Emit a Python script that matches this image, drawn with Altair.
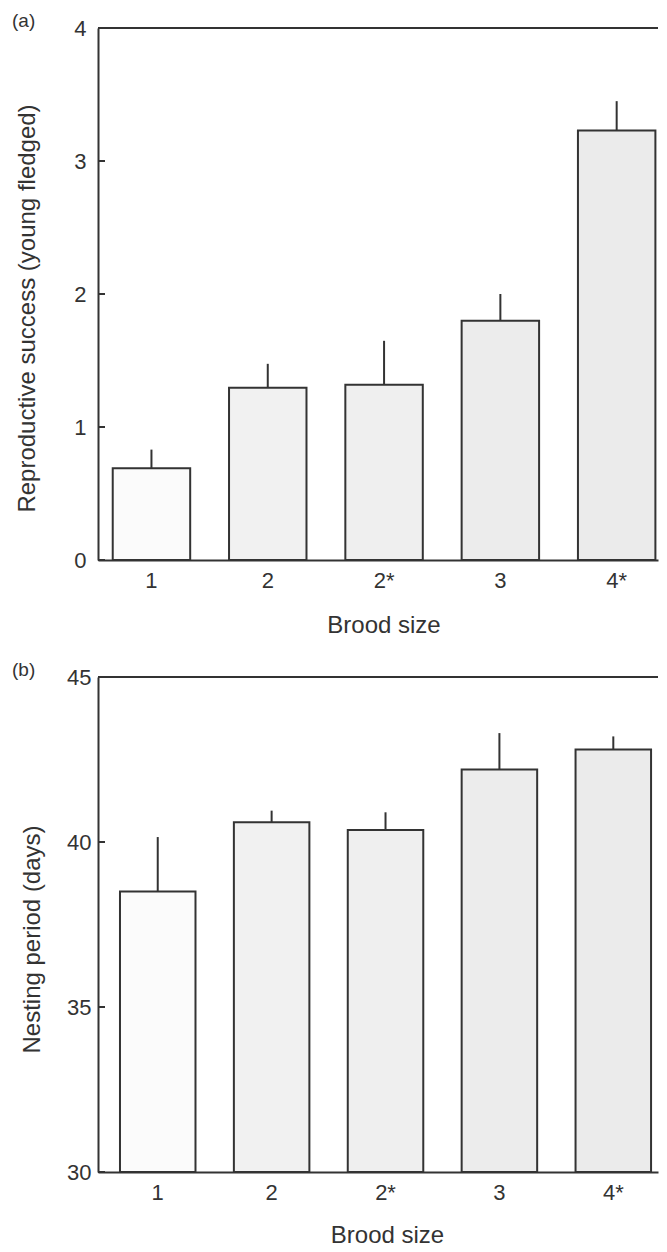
import altair as alt
import pandas as pd

sizes = ["1", "2", "2*", "3", "4*"]
success_mean = [0.69, 1.295, 1.318, 1.798, 3.23]
success_upper = [0.83, 1.475, 1.648, 2.0, 3.45]
nestling_mean = [38.5, 40.6, 40.36, 42.2, 42.8]
nestling_upper = [40.15, 40.95, 40.9, 43.3, 43.2]
success_ticks = [0, 1, 2, 3, 4]
nestling_ticks = [30, 35, 40, 45]

fill_a = ["#fbfbfb", "#f1f1f1", "#efefef", "#ececec", "#ebebeb"]
fill_b = ["#f6f6f6", "#f2f2f2", "#efefef", "#ebebeb", "#ebebeb"]

FONT = "Liberation Sans"
INK = "#333333"


def panel(label, mean, upper, ytitle, ydomain, yticks, fills, width, height,
          p_inner, p_outer, x_align, title_dx, ytitle_x, ytitle_y, xtitle_x, xtitle_y,
          ylabel_pad):
    df = pd.DataFrame({"size": sizes, "mean": mean, "upper": upper})
    tdf = pd.DataFrame({"tick": yticks})
    xs = alt.Scale(domain=sizes, paddingInner=p_inner, paddingOuter=p_outer, align=x_align)
    ys = alt.Scale(domain=ydomain, nice=False, zero=False)

    bars = alt.Chart(df).mark_bar(stroke=INK, strokeWidth=2).encode(
        x=alt.X("size:N", scale=xs, sort=sizes,
                axis=alt.Axis(title="Brood size", orient="bottom", labelAngle=0,
                              ticks=False, tickSize=0, labelPadding=27.5,
                              labelBaseline="alphabetic", labelFont=FONT, labelFontSize=22,
                              labelColor=INK, titleFont=FONT, titleFontSize=24,
                              titleFontWeight="normal", titleColor=INK,
                              titleBaseline="alphabetic", titleX=xtitle_x, titleY=xtitle_y,
                              titleAlign="center",
                              domainColor=INK, domainWidth=2, grid=False)),
        y=alt.Y("mean:Q", scale=ys,
                axis=alt.Axis(title=ytitle, values=yticks, format="d", ticks=False,
                              tickSize=0, labelPadding=ylabel_pad, labelFont=FONT,
                              labelFontSize=22, labelColor=INK, titleFont=FONT,
                              titleFontSize=24, titleFontWeight="normal", titleColor=INK,
                              titleBaseline="top", titleAngle=-90,
                              titleAlign="center", titleX=ytitle_x, titleY=ytitle_y,
                              domainColor=INK, domainWidth=2, grid=False)),
        y2=alt.datum(ydomain[0]),
        color=alt.Color("size:N", scale=alt.Scale(domain=sizes, range=fills), legend=None),
    )

    errs = alt.Chart(df).mark_rule(color=INK, strokeWidth=2).encode(
        x=alt.X("size:N", scale=xs, sort=sizes),
        y=alt.Y("mean:Q", title=ytitle),
        y2="upper:Q",
    )

    tickmarks = alt.Chart(tdf).mark_rule(color=INK, strokeWidth=2).encode(
        y=alt.Y("tick:Q", title=ytitle),
        x=alt.value(0),
        x2=alt.value(7),
    )

    top_border = alt.Chart(tdf).mark_rule(color=INK, strokeWidth=2).encode(
        y=alt.datum(ydomain[1]),
        x=alt.value(0),
        x2=alt.value(width),
    )

    return alt.layer(bars, errs, tickmarks, top_border).properties(
        width=width, height=height,
        title=alt.TitleParams(text=label, anchor="start", frame="group", dx=title_dx,
                              dy=29, offset=0, baseline="alphabetic", font=FONT,
                              fontSize=19, fontWeight="normal", color=INK),
    )


pa = panel("(a)", success_mean, success_upper, "Reproductive success (young fledged)",
           [0, 4], success_ticks, fill_a, 560, 532,
           0.334, 0.0745, 0.85, -86, -83, 280, 285.5, 72.5, 12)
pb = panel("(b)", nestling_mean, nestling_upper, "Nesting period (days)",
           [30, 45], nestling_ticks, fill_b, 560, 495,
           0.337, 0.127, 0.76, -86, -78, 262, 289, 70, 7)

chart = alt.vconcat(pa, pb, spacing=23).configure_view(
    stroke=None
).properties(padding={"left": 4, "top": 4, "right": 0, "bottom": 0}, background="white")

chart.save("out.html", embed_options={"renderer": "svg", "actions": False})
